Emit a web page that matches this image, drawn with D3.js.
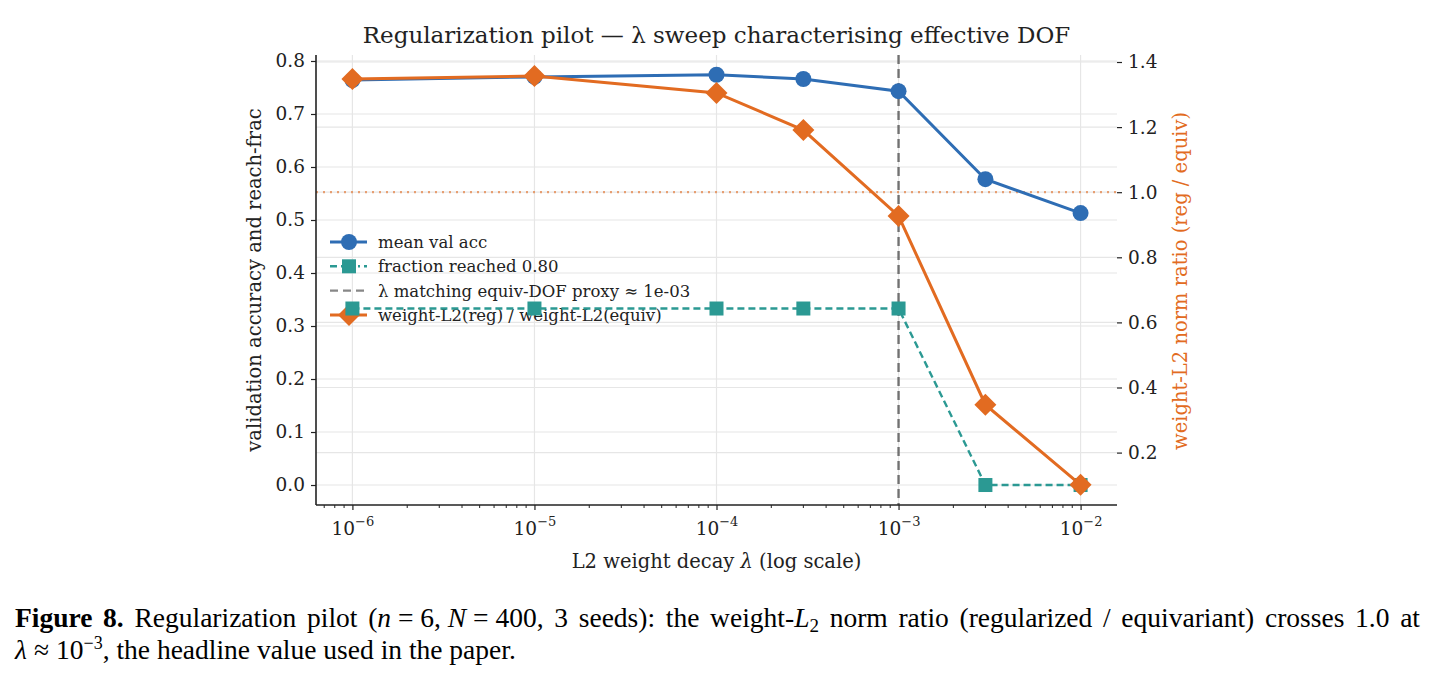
<!DOCTYPE html>
<html>
<head>
<meta charset="utf-8">
<script src="https://cdn.jsdelivr.net/npm/d3@7"></script>
<style>
  body { margin: 0; background: #fff; }
  svg { display: block; }
</style>
</head>
<body>
<div id="chart"></div>
<script>
// data
const lambdas = [1e-6, 1e-5, 1e-4, 3e-4, 1e-3, 3e-3, 1e-2];
const meanValAcc = [0.764, 0.770, 0.774, 0.766, 0.743, 0.577, 0.513];
const fracReached = [0.333, 0.333, 0.333, 0.333, 0.333, 0.0, 0.0];
const normRatio = [1.348, 1.357, 1.305, 1.191, 0.927, 0.347, 0.101];
const xTicks = [1e-6, 1e-5, 1e-4, 1e-3, 1e-2];
const leftTicks = [0.0, 0.1, 0.2, 0.3, 0.4, 0.5, 0.6, 0.7, 0.8];
const rightTicks = [0.2, 0.4, 0.6, 0.8, 1.0, 1.2, 1.4];
const equivLambda = 1e-3;
const refRatio = 1.0;
const legendLabels = ["mean val acc", "fraction reached 0.80",
  "λ matching equiv-DOF proxy ≈ 1e-03", "weight-L2(reg) / weight-L2(equiv)"];

const W = 1434, H = 679;
const margin = {top: 55, right: 317, bottom: 174, left: 316};
const width = W - margin.left - margin.right;
const height = H - margin.top - margin.bottom;

const BLUE = "#2e6db4", ORANGE = "#e26b21", TEAL = "#2b9993", GREY = "#555";
const SERIF = "'DejaVu Serif', serif";

const svg = d3.select("#chart").append("svg")
  .attr("width", W).attr("height", H)
  .style("font-family", SERIF);

const g = svg.append("g")
  .attr("transform", "translate(" + margin.left + "," + margin.top + ")");

const x = d3.scaleLog().domain([Math.pow(10, -6.2), Math.pow(10, -1.8)]).range([0, width]);
const y = d3.scaleLinear().domain([-0.0377, 0.8113]).range([height, 0]);
const y2 = d3.scaleLinear().domain([0.039, 1.4215]).range([height, 0]);

// square diamond marker (matplotlib "D")
const diamond = s => "M0," + (-s) + "L" + s + ",0L0," + s + "L" + (-s) + ",0Z";

// grids
g.append("g").selectAll("line").data(leftTicks).join("line")
  .attr("x1", 0).attr("x2", width)
  .attr("y1", d => y(d)).attr("y2", d => y(d))
  .attr("stroke", "#e6e6e6").attr("stroke-width", 1.2);
g.append("g").selectAll("line").data(rightTicks).join("line")
  .attr("x1", 0).attr("x2", width)
  .attr("y1", d => y2(d)).attr("y2", d => y2(d))
  .attr("stroke", "#e6e6e6").attr("stroke-width", 1.2);
g.append("g").selectAll("line").data(xTicks).join("line")
  .attr("x1", d => x(d)).attr("x2", d => x(d))
  .attr("y1", 0).attr("y2", height)
  .attr("stroke", "#e6e6e6").attr("stroke-width", 1.2);

// legend (drawn under the lines, no frame)
const leg = g.append("g").attr("transform", "translate(14,187)");
legendLabels.forEach((t, i) => {
  const row = leg.append("g").attr("transform", "translate(0," + (i * 24.3) + ")");
  const col = [BLUE, TEAL, GREY, ORANGE][i];
  const ln = row.append("line").attr("x1", 0).attr("x2", 37).attr("y1", 0).attr("y2", 0)
    .attr("stroke", col);
  if (i === 0) ln.attr("stroke-width", 3);
  if (i === 1) ln.attr("stroke-width", 2.4).attr("stroke-dasharray", "7,4,2,4");
  if (i === 2) ln.attr("stroke-width", 2.4).attr("stroke-dasharray", "8,5").attr("opacity", 0.7);
  if (i === 3) ln.attr("stroke-width", 3);
  if (i === 0) row.append("circle").attr("cx", 19).attr("cy", 0).attr("r", 8).attr("fill", col);
  if (i === 1) row.append("rect").attr("x", 12).attr("y", -7).attr("width", 14).attr("height", 14).attr("fill", col);
  if (i === 3) row.append("path").attr("d", diamond(11)).attr("transform", "translate(19,0)").attr("fill", col);
  row.append("text").attr("x", 48).attr("y", 6).attr("font-size", 16.5).attr("fill", "#222").text(t);
});

// reference lines
g.append("line")
  .attr("x1", 0).attr("x2", width)
  .attr("y1", y2(refRatio)).attr("y2", y2(refRatio))
  .attr("stroke", ORANGE).attr("opacity", 0.6).attr("stroke-width", 2.2)
  .attr("stroke-dasharray", "2,5");
g.append("line")
  .attr("x1", x(equivLambda)).attr("x2", x(equivLambda))
  .attr("y1", 0).attr("y2", height)
  .attr("stroke", GREY).attr("opacity", 0.8).attr("stroke-width", 2.4)
  .attr("stroke-dasharray", "9,5");

// teal: fraction reached
const lineL = d3.line().x(d => x(d[0])).y(d => y(d[1]));
const fracPts = lambdas.map((l, i) => [l, fracReached[i]]);
g.append("path").datum(fracPts).attr("d", lineL)
  .attr("fill", "none").attr("stroke", TEAL).attr("stroke-width", 2.4)
  .attr("stroke-dasharray", "7,4");
g.append("g").selectAll("rect").data(fracPts).join("rect")
  .attr("x", d => x(d[0]) - 7).attr("y", d => y(d[1]) - 7)
  .attr("width", 14).attr("height", 14).attr("fill", TEAL);

// blue: mean val acc
const accPts = lambdas.map((l, i) => [l, meanValAcc[i]]);
g.append("path").datum(accPts).attr("d", lineL)
  .attr("fill", "none").attr("stroke", BLUE).attr("stroke-width", 3);
g.append("g").selectAll("circle").data(accPts).join("circle")
  .attr("cx", d => x(d[0])).attr("cy", d => y(d[1])).attr("r", 8).attr("fill", BLUE);

// orange: norm ratio on right axis
const lineR = d3.line().x(d => x(d[0])).y(d => y2(d[1]));
const ratioPts = lambdas.map((l, i) => [l, normRatio[i]]);
g.append("path").datum(ratioPts).attr("d", lineR)
  .attr("fill", "none").attr("stroke", ORANGE).attr("stroke-width", 3);
g.append("g").selectAll("path").data(ratioPts).join("path")
  .attr("d", diamond(11))
  .attr("transform", d => "translate(" + x(d[0]) + "," + y2(d[1]) + ")")
  .attr("fill", ORANGE);

// axes
const styleAxis = sel => {
  sel.selectAll("text").attr("font-family", SERIF).attr("font-size", 18.5).attr("fill", "#222");
  sel.selectAll("line").attr("stroke", "#222").attr("stroke-width", 1.2);
};

const yAxis = g.append("g")
  .call(d3.axisLeft(y).tickValues(leftTicks).tickFormat(d3.format(".1f")).tickSize(5).tickPadding(6));
yAxis.select(".domain").attr("stroke", "#222").attr("stroke-width", 1.6)
  .attr("d", "M0," + height + "V0");
styleAxis(yAxis);

const y2Axis = g.append("g").attr("transform", "translate(" + width + ",0)")
  .call(d3.axisRight(y2).tickValues(rightTicks).tickFormat(d3.format(".1f")).tickSize(5).tickPadding(6));
y2Axis.select(".domain").remove();
styleAxis(y2Axis);

const minorTicks = [];
for (let e = -7; e <= -2; e++) {
  for (let m = 2; m <= 9; m++) {
    const v = m * Math.pow(10, e);
    if (v > x.domain()[0] && v < x.domain()[1]) minorTicks.push(v);
  }
}
g.append("g").attr("transform", "translate(0," + height + ")")
  .selectAll("line").data(minorTicks).join("line")
  .attr("x1", d => x(d)).attr("x2", d => x(d)).attr("y1", 0).attr("y2", 3)
  .attr("stroke", "#222").attr("stroke-width", 1);

const xAxis = g.append("g").attr("transform", "translate(0," + height + ")")
  .call(d3.axisBottom(x).tickValues(xTicks).tickFormat("").tickSize(5));
xAxis.select(".domain").attr("stroke", "#222").attr("stroke-width", 1.6)
  .attr("d", "M0,0H" + width);
styleAxis(xAxis);
xAxis.selectAll(".tick").each(function(d) {
  const t = d3.select(this).append("text")
    .attr("y", 30).attr("text-anchor", "middle")
    .attr("font-family", SERIF).attr("font-size", 18.5).attr("fill", "#222");
  t.append("tspan").text("10");
  t.append("tspan").attr("dy", -9).attr("font-size", 13).text("−" + Math.round(-Math.log10(d)));
});

// labels
svg.append("text")
  .attr("x", margin.left + width / 2).attr("y", 43).attr("text-anchor", "middle")
  .attr("font-size", 23).attr("fill", "#222")
  .text("Regularization pilot — λ sweep characterising effective DOF");

svg.append("text")
  .attr("transform", "translate(261," + (margin.top + 225) + ") rotate(-90)")
  .attr("text-anchor", "middle").attr("font-size", 19.5).attr("fill", "#222")
  .text("validation accuracy and reach-frac");

svg.append("text")
  .attr("transform", "translate(1187," + (margin.top + 226) + ") rotate(-90)")
  .attr("text-anchor", "middle").attr("font-size", 19.5).attr("fill", ORANGE)
  .text("weight-L2 norm ratio (reg / equiv)");

const xl = svg.append("text")
  .attr("x", margin.left + width / 2).attr("y", 568).attr("text-anchor", "middle")
  .attr("font-size", 19.5).attr("fill", "#222");
xl.append("tspan").text("L2 weight decay ");
xl.append("tspan").attr("font-style", "italic").text("λ");
xl.append("tspan").text(" (log scale)");

// caption (math spacing uses U+2005 so it is not stretched by word-spacing)
const CAP = "'Liberation Serif', 'Times New Roman', serif";
const capSize = 27.5;
const MS = "\u2005";
const c1 = svg.append("text").attr("x", 15).attr("y", 627)
  .attr("font-family", CAP).attr("font-size", capSize).attr("fill", "#000");
c1.append("tspan").attr("font-weight", "bold").text("Figure 8.");
c1.append("tspan").text(" Regularization pilot (");
c1.append("tspan").attr("font-style", "italic").text("n");
c1.append("tspan").text(MS + "=" + MS + "6," + MS);
c1.append("tspan").attr("font-style", "italic").text("N");
c1.append("tspan").text(MS + "=" + MS + "400, 3 seeds): the weight-");
c1.append("tspan").attr("font-style", "italic").text("L");
c1.append("tspan").attr("font-size", 19).attr("dy", 5).text("2");
c1.append("tspan").attr("dy", -5).text(" norm ratio (regularized / equivariant) crosses 1.0 at");
// justify the first line like the typeset caption
const natural = c1.node().getComputedTextLength();
const spaces = (c1.text().match(/ /g) || []).length;
c1.attr("word-spacing", Math.max(0, (1405 - natural) / spaces));

const c2 = svg.append("text").attr("x", 15).attr("y", 659)
  .attr("font-family", CAP).attr("font-size", capSize).attr("fill", "#000");
c2.append("tspan").attr("font-style", "italic").text("λ");
c2.append("tspan").attr("dx", 7).text("≈");
c2.append("tspan").attr("dx", 7).text("10");
c2.append("tspan").attr("font-size", 18).attr("dy", -10).text("−3");
c2.append("tspan").attr("dy", 10).text(", the headline value used in the paper.");
</script>
</body>
</html>
